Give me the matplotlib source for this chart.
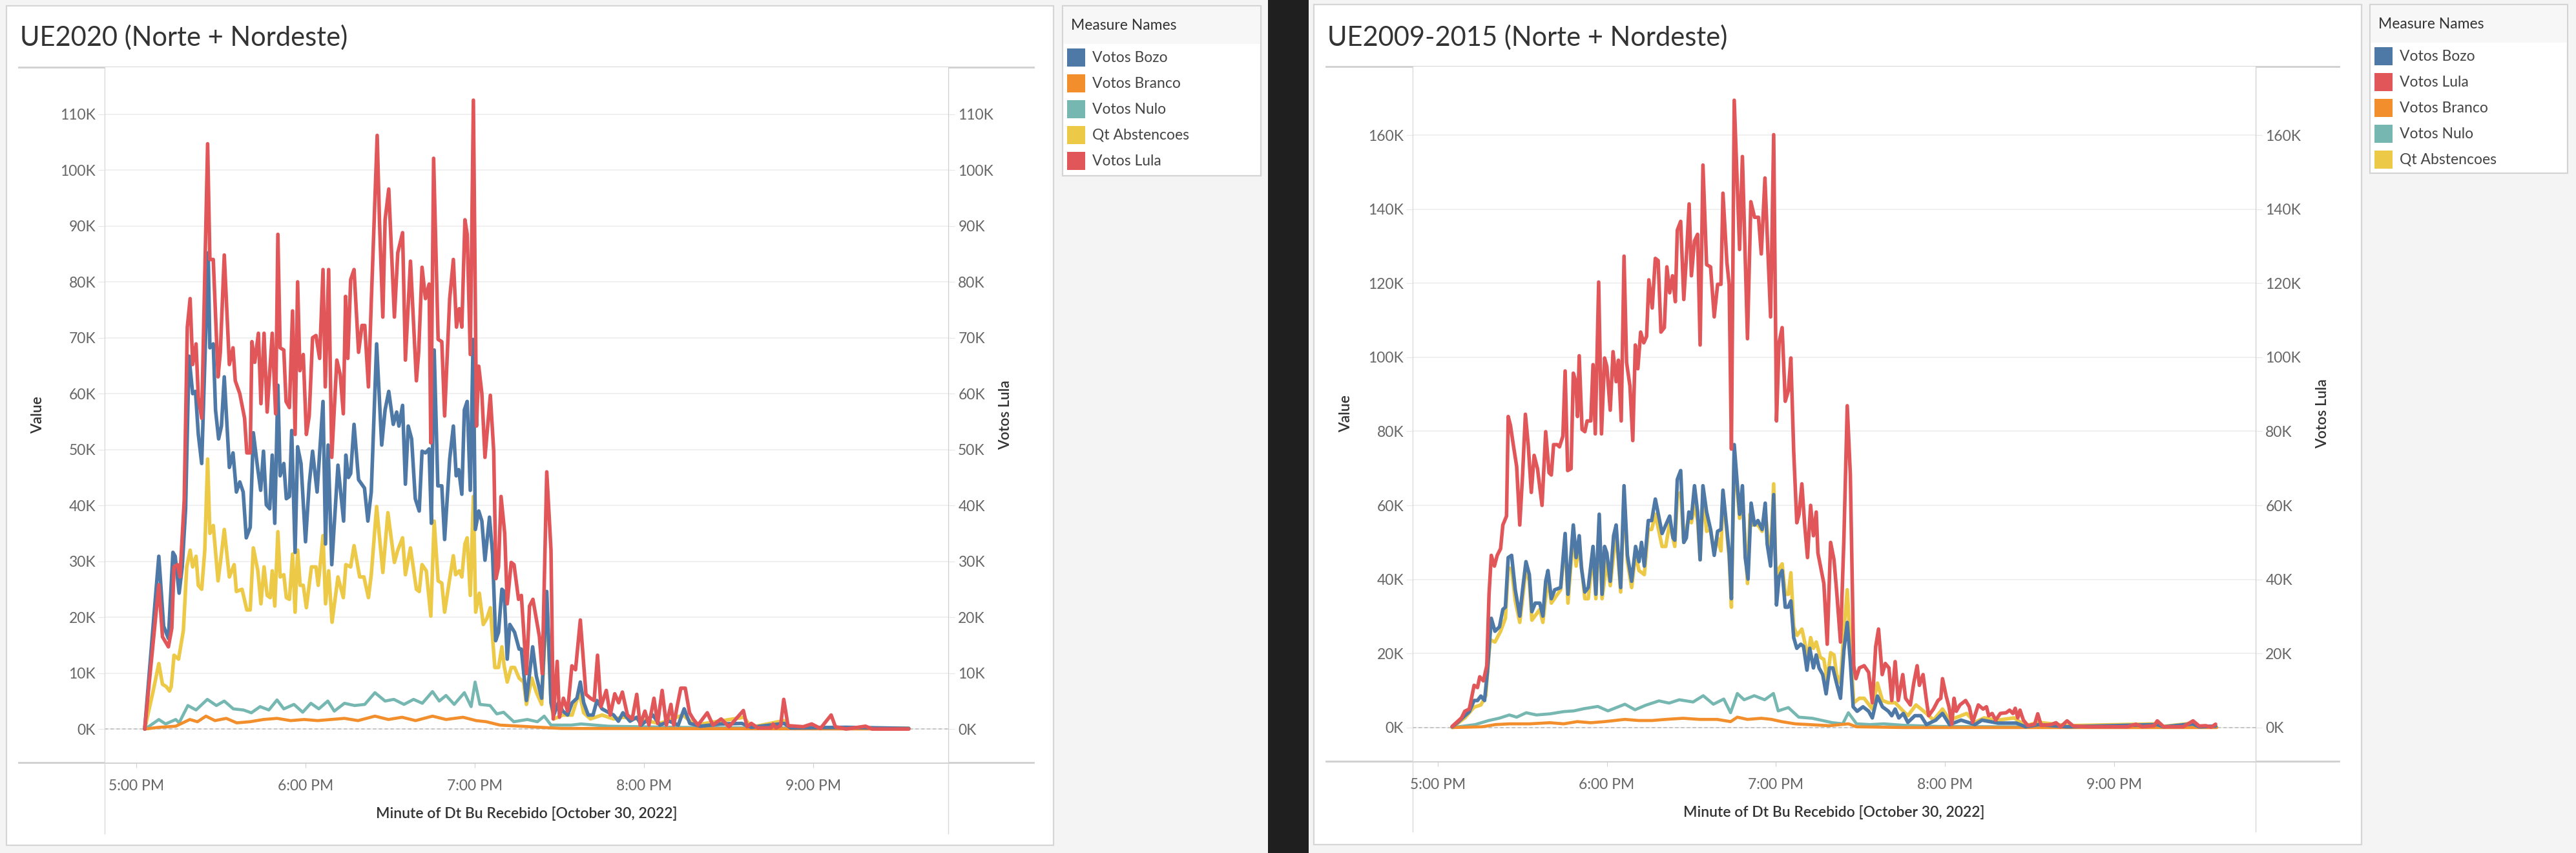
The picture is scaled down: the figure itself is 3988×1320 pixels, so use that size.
import matplotlib
matplotlib.use("Agg")
import matplotlib.pyplot as plt
from matplotlib.patches import Rectangle
from matplotlib.ticker import FuncFormatter

plt.rcParams['font.family'] = ['Lato', 'DejaVu Sans']

W, H = 3988, 1320

colors = {"Votos Bozo": "#4e79a7", "Votos Branco": "#f28e2b", "Votos Nulo": "#76b7b2",
          "Qt Abstencoes": "#edc948", "Votos Lula": "#e15759"}

# x = minutos depois das 5:00 PM, y = milhares de votos
hour_ticks = [0, 60, 120, 180, 240]
hour_labels = ["5:00 PM", "6:00 PM", "7:00 PM", "8:00 PM", "9:00 PM"]

# ---------------- UE2020 ----------------
ue2020_lula = [(3, 0), (8, 25.8), (9.3, 16.5), (11.4, 14.7), (12.6, 18), (13.4, 29), (14.6, 29.4), (15.5, 27.2),
    (17, 40.9), (18.1, 71.9), (19.1, 77), (20, 65.2), (21.2, 68.9), (22, 59.3), (23.2, 55.6), (25.3, 104.7),
    (26.1, 84), (27.3, 84), (29, 63), (29.8, 67.4), (31.2, 84.8), (33, 65.2), (34.3, 68.2), (35.1, 62.3),
    (36.7, 60), (38.4, 55.6), (39.2, 49.4), (40.4, 49.4), (41, 69.3), (42, 65.6), (43.3, 70.8), (44.2, 58.2),
    (45.3, 70.8), (46.4, 56.7), (48.2, 70.8), (49.4, 56.4), (50.2, 88.5), (51, 68.2), (52.3, 67.8), (53.1, 58.6),
    (54.3, 57.5), (55.4, 74.8), (56.3, 52.7), (57.2, 80), (58, 64.1), (59.2, 67), (60.3, 52.7), (61.3, 56),
    (62.5, 70), (63.7, 70.4), (65, 66.3), (66.2, 82.2), (67, 61.2), (68.2, 82.2), (69.3, 48.6), (71.1, 66),
    (72.3, 63.4), (73.4, 56.4), (74.2, 77.4), (75, 66.3), (76, 80.4), (77.2, 82.2), (78.8, 67.4), (80, 72.2),
    (81, 72.2), (82.3, 61.2), (83.3, 76.3), (85.4, 106.2), (86.2, 91.1), (87.4, 73.7), (88.2, 91.1), (89.5, 96.6),
    (91.5, 73.7), (92.7, 85.2), (94.4, 88.8), (95.4, 66), (97.2, 83.7), (99.3, 62.3), (100.1, 67.4), (101.3, 82.6),
    (102.5, 77), (103.8, 79.6), (104.4, 51.2), (105.4, 102.1), (107, 69.7), (108.3, 69.3), (109.3, 56), (111.1, 77),
    (112.4, 84), (113.5, 71.9), (114.5, 75.2), (115.4, 71.9), (116.5, 91.1), (117.3, 88.5), (118.4, 67), (119.5, 112.5),
    (120.6, 54.2), (121.4, 64.9), (122.5, 60), (123.6, 48.6), (125.5, 59.7), (126.7, 49.7), (127.5, 26.9), (128.4, 29),
    (129.3, 41.6), (130.6, 35), (131.5, 22.4), (132.9, 29.8), (133.9, 29.4), (135.5, 23.2), (136.5, 23.9), (138.3, 9.9),
    (139.4, 22), (140.6, 23.2), (142.9, 16.5), (143.9, 9.9), (145.5, 46), (147, 32), (147.8, 1.8), (149.2, 12.1),
    (150, 2.1), (151.4, 5.5), (152.9, 3.2), (154.4, 11.3), (155.7, 10.6), (157.4, 19.5), (159.4, 6.2), (161, 5.5),
    (162.3, 5.1), (163.5, 13.2), (164.7, 4), (166.6, 6.9), (168, 2.5), (169.6, 6.3), (171, 4.7), (172.3, 6.6),
    (174.1, 2.5), (175.8, 1.8), (177.4, 6.2), (178.6, 0.7), (180.3, 3.2), (181.7, 0.7), (183.5, 5.5), (184.8, 1),
    (186.4, 6.9), (187.9, 0.7), (189.5, 4.4), (190.5, 0.7), (191.7, 4), (193, 7.3), (194.6, 7.3), (196.1, 2.9),
    (197.4, 1.8), (199.1, 0.7), (202.4, 2.9), (204.4, 0.7), (207.3, 1.8), (210.1, 0.4), (215.2, 3.3), (216.5, 0.4),
    (218, 1), (220.3, 0.2), (225, 0.2), (225.7, 0.9), (226.8, 0.2), (228.4, 0.6), (229.5, 5.3), (231, 0.6),
    (236.4, 0.4), (239.4, 0.9), (242.5, 0.1), (246.3, 2.5), (247.8, 0.4), (251.6, 0), (258.5, 0.5), (260.8, 0),
    (273.8, 0)]

ue2020_bozo = [(3, 0), (8, 30.9), (9.7, 18.4), (11.4, 16.2), (13, 31.6), (13.8, 30.9), (15.2, 24.3), (16.3, 29),
    (17.5, 39.4), (18.7, 66.7), (20, 60), (21, 60.4), (22, 52.7), (23.2, 47.5), (25.5, 85.2), (26.1, 68.2),
    (27.3, 68.9), (28.1, 57.1), (29.2, 51.9), (30.2, 54.2), (31.2, 63), (33, 46.8), (34.3, 49.4), (35.5, 42.4),
    (36.7, 44.2), (37.9, 42.4), (39, 34.2), (40.4, 36.1), (41.5, 53), (42.9, 47.2), (44.1, 42.7), (45.1, 49.7),
    (46.1, 40.1), (47.3, 39.4), (48.2, 49), (49.1, 36.8), (50.2, 61.5), (51, 45.3), (52.3, 47.5), (53.2, 41.2),
    (54.3, 41.6), (55.1, 53.4), (56.3, 31.6), (57.2, 50.5), (58.4, 47.5), (60, 33.5), (61.3, 43.8), (62.5, 49.7),
    (64.1, 42.4), (66.2, 58.6), (67.1, 33.1), (68, 50.8), (69.3, 29.4), (71.5, 47.2), (73.5, 37.2), (74.3, 49),
    (75.2, 45), (76, 45.7), (77.2, 54.5), (78.8, 44.6), (80.9, 43.1), (82.1, 37.2), (83.3, 42.4), (85.2, 68.9),
    (87, 50.8), (88.2, 57.1), (89.5, 60.4), (91.1, 54.5), (92.3, 56.7), (93.1, 54.2), (94.4, 57.9), (95.4, 43.8),
    (96.4, 54.2), (97.6, 51.9), (98.9, 41.2), (100.3, 39), (101.3, 49.7), (102.5, 49.4), (103.8, 50.1), (104.6, 36.8),
    (105.6, 67.8), (106.9, 43.5), (108.3, 43.5), (109.3, 33.9), (111.1, 48.3), (112.4, 54.2), (113.4, 45.3),
    (114.3, 46.4), (115.4, 42), (116.3, 57.1), (117.3, 58.6), (118.4, 42.7), (119.4, 69.7), (120.2, 35.7), (121.4, 39),
    (122.5, 37.2), (123.6, 30.2), (125.2, 37.9), (126.3, 31.3), (127.4, 15.8), (128.4, 17.3), (129.6, 25),
    (130.4, 24.6), (131.5, 12.5), (132.4, 18.7), (134.1, 17.3), (135.7, 14.3), (136.5, 14.3), (138.3, 5.1),
    (140.5, 14.7), (141.8, 9.5), (143.7, 5.5), (145.5, 24.6), (147, 4.7), (148, 2.5), (149.6, 4.7), (151.2, 3.2),
    (152.9, 2.5), (154.5, 4.7), (156.2, 5.5), (157.4, 8.4), (158.6, 4.7), (160.2, 2.5), (161.9, 2.5), (163.3, 5.1),
    (165.1, 3.6), (167.6, 2.9), (169.2, 2.5), (170.9, 1.4), (172.5, 2.9), (175, 1.4), (177.4, 2.1), (179, 0.7),
    (183.1, 2.5), (185.6, 0.7), (188.9, 1.4), (192.1, 0.7), (194.2, 3.6), (196.2, 1), (200, 0.5), (207, 0.9),
    (214.6, 1), (218, 0.3), (229.6, 1), (232, 0.2), (251.6, 0.3), (273.8, 0.1)]

ue2020_abst = [(3, 0), (6, 6.8), (8, 11.7), (9.3, 8), (10.6, 7.6), (11.8, 6.8), (12.4, 7.6), (13.4, 13.2),
    (15, 12.5), (16.7, 17.6), (17.9, 29), (19.1, 32), (20, 29), (21.2, 30.9), (22, 25.7), (23.2, 25), (24.3, 32),
    (25.3, 48.3), (26.1, 35), (27.3, 36.4), (29, 26.5), (30, 30.5), (31.2, 35.7), (33, 27.2), (34.7, 29.4),
    (35.5, 24.6), (37.5, 25), (39.2, 21.3), (40.4, 21.3), (41.5, 32.4), (43.1, 28.3), (44.2, 22.4), (45.3, 29),
    (46.4, 23.9), (47.5, 23.5), (48.2, 28.3), (49.1, 22), (50.2, 35.3), (51, 27.2), (52.3, 27.6), (53.2, 23.5),
    (54.3, 23.2), (55.4, 31.3), (56.3, 20.9), (57.2, 32), (58.1, 25.7), (59.2, 25.7), (60.3, 21.7), (62.1, 29),
    (63.7, 29), (64.5, 25.7), (66.2, 34.6), (67.1, 22.4), (68.2, 28.3), (69.4, 19.1), (71.5, 27.2), (73.4, 23.5),
    (74.3, 29.4), (76, 29), (77.2, 32.8), (79.2, 27.2), (80.7, 27.2), (82.3, 23.5), (83.3, 27.6), (85.2, 39.8),
    (87.4, 28), (89.2, 38.7), (91.5, 29.8), (92.7, 32), (94.4, 34.2), (95.4, 27.6), (97.2, 32.4), (99.3, 25),
    (100.3, 24.6), (101.3, 29.4), (102.8, 28.3), (104.4, 20.2), (105.6, 37.2), (107, 26.5), (108.3, 26.1),
    (109.3, 20.9), (111.1, 26.9), (112.4, 31), (113.2, 27.6), (114.5, 28.3), (115.4, 27.2), (116.5, 33.1),
    (117.3, 34.2), (118.4, 23.9), (119.5, 41.6), (120.3, 20.9), (121.6, 24.3), (123, 18.7), (124.3, 19.8),
    (125.5, 21.7), (127.1, 11), (128.4, 11), (129.6, 14.7), (130.4, 11.3), (131.5, 8.4), (132.9, 11), (134.1, 11),
    (135.7, 9.1), (137.3, 8.4), (138.3, 4.4), (140.2, 9.1), (141.8, 6.6), (143.7, 4.4), (145.5, 23.2), (147, 4.7),
    (148, 1.8), (151.2, 2.5), (154.5, 2.5), (157, 6.6), (158.6, 2.9), (161, 1.8), (165.1, 2.5), (169.2, 1.8),
    (172.5, 2.1), (177.4, 1.8), (185.6, 1), (193.8, 2.5), (197.9, 0.7), (215.4, 2.1), (218, 0.3), (229.5, 1.5),
    (232, 0.2), (273.8, 0.1)]

ue2020_nulo = [(3.2, 0), (8, 1.7), (10.4, 0.9), (14, 1.7), (15.2, 1.1), (18.3, 4.2), (21.2, 3.4), (25.2, 5.3),
    (28.4, 4.2), (31.2, 5), (34.4, 3.6), (38, 3.4), (40.8, 2.9), (43.9, 4), (47, 3.4), (49.9, 5.2), (52.3, 3.6),
    (55.9, 4.4), (59, 3), (61.9, 4.6), (64.7, 3.6), (67.9, 5), (70.2, 3.2), (73.8, 4.6), (77.4, 4.2), (81, 4.4),
    (84.6, 6.5), (88.2, 5), (91.3, 5.3), (94.9, 4.4), (98.3, 5.3), (101.4, 4.6), (105, 6.7), (107.4, 5), (109.8, 6),
    (112.7, 4.4), (116.3, 6.5), (118.7, 4), (120.1, 8.4), (121.8, 4.4), (125.4, 4.2), (127.8, 2.7), (130.2, 3),
    (133.8, 1.3), (138.6, 1.7), (142.2, 1.3), (144.6, 2.3), (147, 0.7), (150.6, 0.7), (154.2, 0.7), (157.7, 0.9),
    (167.3, 0.5), (191.2, 0.3), (215.2, 0.2), (273.9, 0.1)]

ue2020_branco = [(3.2, 0), (8, 0.3), (14, 0.5), (19, 1.7), (21.7, 1.3), (24.7, 2.3), (27.9, 1.5), (31.9, 1.9),
    (35.6, 1.1), (40.3, 1.3), (45.1, 1.7), (49.9, 1.9), (54.7, 1.5), (59.5, 1.7), (64.3, 1.5), (69, 1.7),
    (73.8, 1.9), (78.6, 1.5), (84.6, 2.3), (89.4, 1.7), (94.2, 2.1), (99, 1.5), (105, 2.3), (109.8, 1.7),
    (115.8, 2.1), (120.5, 1.5), (124.1, 1.3), (128.9, 0.7), (136.1, 0.5), (143.4, 0.3), (150.6, 0.1), (273.9, 0)]

# ---------------- UE2009-2015 ----------------
ue0915_lula = [(5.1, 0.3), (6.7, 1.4), (8.4, 2.6), (9.6, 4.4), (11.2, 5), (12.9, 11.4), (14.1, 10.8), (14.9, 13.7),
    (16.2, 12.6), (17.4, 16.7), (18.2, 36), (19, 46.5), (20.1, 43.6), (21.1, 46.5), (22.3, 48.3), (23.1, 54.7),
    (24.4, 57.1), (25, 84), (25.8, 81.6), (26.8, 76.4), (28, 70.5), (29.1, 54.7), (30.1, 68.2), (31.1, 84.6),
    (32.1, 76.4), (33.2, 63.5), (34.2, 73.5), (35.4, 69.9), (37, 60), (38.3, 79.9), (39.5, 68.8), (40.3, 68.2),
    (41.1, 76.4), (42.4, 76.4), (43.2, 75.8), (44.4, 78.7), (45.2, 96.3), (46.1, 69.4), (47.3, 69.9), (48.1, 95.7),
    (49, 93.4), (49.6, 84), (50.2, 100.4), (51.2, 80.5), (52.2, 79.9), (53, 82.8), (54.3, 82.8), (55.1, 98),
    (55.9, 79.3), (57.1, 120.3), (58.1, 79.3), (59.2, 99.8), (60, 97.5), (61.2, 85.7), (62.2, 101.5), (63.3, 93.4),
    (64.1, 99.2), (65.1, 82.8), (66.1, 127.3), (67, 98.6), (68.2, 92.2), (69.2, 77.5), (70.1, 103.3), (71, 96.9),
    (72, 106.8), (73.1, 103.9), (74.1, 105.6), (74.9, 120.9), (76.1, 113.3), (77.2, 126.7), (78.2, 126.1),
    (79.2, 106.8), (80.4, 108), (81.3, 124.4), (82.3, 117.4), (83.3, 122), (84.3, 115), (85, 134.3), (86.2, 136.7),
    (87.3, 115.6), (88.2, 126.7), (89.2, 141.4), (90, 122), (91.1, 131.4), (92.2, 133.2), (93.1, 103.3),
    (94.1, 151.9), (95.4, 125), (96.8, 124.4), (98.1, 110.9), (99.3, 119.7), (100.5, 119.7), (101.2, 144.3),
    (102.6, 125.6), (103.4, 119.7), (104.2, 75.2), (105.2, 169.4), (107.1, 129.1), (108.1, 154.2), (109.9, 105),
    (111.1, 142), (112.4, 137.8), (113.8, 137.8), (114.8, 127.9), (116.1, 148.4), (116.9, 133.2), (118.1, 110.9),
    (119.2, 160.1), (120.2, 82.8), (121.1, 103.9), (122.2, 108), (123.3, 88.1), (124.4, 91), (125.3, 99.8),
    (126.3, 74.6), (127.4, 55.3), (128.2, 57.6), (129.2, 65.8), (130.2, 54.7), (131.2, 45.9), (132.3, 60),
    (133.3, 51.8), (134.3, 58.2), (134.9, 47.1), (136.1, 42.4), (137, 38.9), (138.2, 22.5), (139.4, 50),
    (140.6, 45.3), (141.5, 37.2), (142.9, 23.1), (144.1, 50.6), (145.3, 86.9), (146.4, 68.2), (147.6, 16.7),
    (148.4, 13.2), (149.6, 16.1), (151.3, 16.7), (152.9, 14.9), (154.2, 6.7), (155.4, 21.9), (156.4, 26.6),
    (157.7, 14.3), (158.8, 17.3), (160.1, 16.1), (161.1, 7.3), (162.3, 17.8), (163.4, 7.3), (165, 14.3), (166, 7.9),
    (167.7, 6.1), (168.9, 12), (170.1, 16.7), (170.9, 11.4), (172.2, 14.3), (173.4, 7.3), (174.2, 3.2), (175.9, 5),
    (177.5, 7.3), (178.5, 7.9), (179.1, 13.2), (180.4, 8.5), (181.4, 5.6), (182.4, 0.9), (183.2, 7.9), (184, 4.4),
    (185.3, 6.1), (187.3, 7.3), (188.6, 5.6), (189.8, 1.4), (191.8, 6.1), (193.5, 5), (194.7, 5.6), (195.5, 3.2),
    (196.7, 3.8), (198, 2), (199.6, 3.8), (201.7, 4), (202.9, 4.7), (204.1, 3.8), (204.9, 5.2), (205.8, 2.6),
    (206.6, 4.7), (207.8, 2), (209.4, 0.5), (211.8, 0.9), (212.9, 3.7), (214.1, 0.6), (217.6, 0.8), (219.4, 1.3),
    (221, 0.2), (223.3, 1.8), (225.5, 0.4), (230.9, 0.2), (238.5, 0.2), (244.7, 0.2), (247.7, 0.9), (250, 0.2),
    (254.2, 0.5), (255.3, 1.8), (257.6, 0.2), (264.5, 0.2), (268, 1.8), (270.2, 0.4), (272.5, 0.5), (274.4, 0.1),
    (276, 0.9)]

ue0915_bozo = [(5.1, 0.2), (7.1, 1.4), (9.6, 3.2), (11.2, 4.3), (12.9, 7.3), (14.1, 7.3), (15.3, 8.5), (16.6, 7.3),
    (17.6, 14.9), (19, 29.5), (20.3, 26), (21.9, 27.2), (23.1, 31.9), (24, 32.5), (25, 45.9), (26.2, 46.5),
    (27.5, 37.2), (29.1, 30.1), (30.1, 37.2), (31.3, 44.8), (32.5, 41.3), (33.4, 31.3), (34.6, 33.6), (36.2, 33.6),
    (37.3, 30.1), (38.3, 39.5), (39.1, 42.4), (40.3, 34.8), (41.5, 37.2), (43.6, 37.8), (45.2, 52.4), (46.2, 36),
    (48.1, 54.7), (49.1, 45.9), (50.2, 51.8), (51, 43), (52.2, 36.6), (53.4, 37.8), (55.1, 48.9), (56.1, 36),
    (57.3, 57.6), (58.3, 36), (59.2, 48.9), (60, 47.1), (61.2, 39.5), (62.4, 51.8), (63.3, 54.7), (64.9, 37.8),
    (66.1, 65.3), (67.3, 46.5), (68.8, 39.5), (70.2, 48.9), (71.4, 44.8), (72.3, 50), (73.3, 43.6), (74.7, 55.9),
    (75.9, 55.9), (77.2, 61.7), (78.4, 57.1), (79.6, 52.4), (80.9, 54.7), (82.3, 57.1), (83.5, 51.2), (84.1, 50.6),
    (85, 67), (86.2, 69.4), (87.3, 50), (88.2, 51.2), (89.1, 58.2), (90, 56.5), (91.1, 65.3), (92.2, 58.2),
    (93.1, 45.3), (94.1, 65.3), (95.4, 58.2), (96.8, 53.5), (98.1, 46.5), (99.3, 53), (100.5, 53.5), (101.2, 64.1),
    (102.6, 53.5), (103.4, 47.1), (104.2, 34.8), (105.2, 76.4), (107.1, 57.6), (108.1, 65.3), (109.1, 45.9),
    (110.1, 40.1), (111.2, 60.6), (112.4, 54.7), (113.6, 55.9), (115.1, 53.5), (116.2, 60.6), (116.9, 49.5),
    (118.1, 43.6), (119.2, 62.9), (120.2, 33.1), (121.1, 40.7), (122.2, 42.4), (123.3, 32.5), (124.3, 32.5),
    (125.3, 34.2), (126.3, 24.3), (127.4, 21.4), (128.8, 22.5), (129.8, 21.9), (131, 15.5), (132, 21.4),
    (133.3, 16.1), (134.3, 19.6), (135.3, 16.1), (136.6, 14.3), (137.8, 9.1), (139, 16.1), (140.2, 16.1),
    (141.5, 12), (142.9, 7.9), (144.1, 20.8), (145.3, 28.4), (146.4, 17.8), (147.4, 5.6), (148.8, 4.4),
    (150.9, 5.6), (152.9, 4.4), (154.2, 2.6), (156, 8.5), (157.8, 5.6), (159.9, 4.4), (161.1, 3.2), (162.3, 5),
    (163.6, 2.6), (165.2, 3.8), (166.8, 1.4), (169.3, 3.2), (171.4, 3.2), (173.4, 0.8), (176.7, 2), (179.1, 3.8),
    (181.6, 0.8), (185.7, 2), (190.6, 0.8), (193.1, 2), (198.8, 1.2), (205.3, 1.2), (208.6, 0.2), (213.1, 0.8),
    (223.4, 0.2), (255.3, 0.8), (257.6, 0.2), (268, 1), (270.2, 0.2), (276, 0.4)]

ue0915_abst = [(5.1, 0), (9.6, 2.6), (12.9, 5.5), (15.3, 6.1), (17, 8.5), (18.6, 23.7), (20.3, 23.1), (22.3, 26),
    (24, 29.5), (25, 43), (26.2, 43), (27.5, 34.2), (29.1, 28.4), (30.1, 34.8), (31.3, 43), (32.5, 39.5),
    (33.4, 29), (36.2, 31.9), (37.3, 28.4), (39.1, 40.7), (40.3, 33.6), (43.6, 37.2), (45.2, 50.6), (46.2, 33.6),
    (48.1, 52.4), (49.1, 43.6), (50.2, 49.5), (52.2, 34.8), (53.4, 34.8), (55.1, 47.1), (56.1, 34.8), (57.3, 55.3),
    (58.3, 34.8), (60, 44.8), (61.2, 38.3), (63.3, 53), (64.9, 36.6), (66.1, 62.9), (67.3, 44.8), (68.8, 37.8),
    (70.2, 47.1), (71.4, 42.4), (73.3, 41.3), (74.7, 53.5), (75.9, 53.5), (77.2, 57.6), (79.6, 48.9), (80.9, 48.9),
    (82.3, 55.3), (84.1, 48.9), (85, 62.3), (86.2, 63.5), (87.3, 50), (89.1, 57.1), (90, 55.3), (91.1, 60),
    (92.2, 55.9), (93.1, 45.3), (94.1, 62.3), (95.4, 53), (96.8, 53.5), (98.1, 47.1), (99.3, 51.2), (100.5, 47.7),
    (101.2, 63.5), (103.4, 45.9), (104.2, 32.5), (105.2, 73.5), (107.1, 56.5), (108.1, 62.9), (109.9, 38.9),
    (110.8, 57.6), (111.6, 54.7), (113.6, 54.7), (115.1, 53), (116.2, 58.2), (118.1, 45.3), (119.2, 65.8),
    (120.2, 34.2), (121.1, 43), (122.2, 44.2), (123.3, 36), (124.4, 36), (125.3, 41.8), (126.3, 27.2),
    (127.5, 24.9), (129.2, 26.6), (130.2, 23.1), (131.2, 18.4), (132.3, 24.3), (133.3, 21.4), (134.3, 23.1),
    (135.7, 19), (137, 18.4), (138.2, 12.6), (139.4, 20.2), (140.6, 19.6), (141.5, 14.3), (142.9, 12), (144.1, 26),
    (145.3, 37.2), (146.4, 22.5), (147.6, 6.7), (149.6, 7.9), (151.3, 7.9), (154.2, 5), (156, 12), (157.8, 7.3),
    (159.9, 6.7), (162.3, 6.7), (165.2, 4.4), (166.8, 3.2), (169.7, 6.1), (173.4, 3.8), (175.9, 2), (179.1, 5),
    (181.6, 2), (185.7, 3.2), (187.7, 3.8), (190.6, 1.4), (193.9, 2.6), (198.8, 2), (204.5, 2.6), (208.6, 0.5),
    (213.1, 1.4), (223.4, 0.5), (255.3, 1), (257.6, 0.3), (268, 1.2), (270.2, 0.3), (276, 0.3)]

ue0915_nulo = [(5.3, 0), (13.3, 0.8), (18.1, 1.9), (21.7, 2.5), (25.4, 3.4), (28, 2.8), (31.4, 4), (35, 3.4),
    (39.8, 3.7), (44.7, 4.3), (48.3, 4.5), (51.9, 5.1), (56.8, 5.7), (60.4, 4.5), (66.4, 6.3), (70, 4.8),
    (73.7, 6), (78.5, 7.2), (82.1, 6.6), (85.7, 7.5), (90.6, 6.9), (94.2, 8.6), (97.8, 6.3), (101.5, 7.7),
    (103.9, 4), (106.3, 9.2), (108.7, 7.5), (112.3, 8.6), (116, 7.5), (119.1, 9.2), (120.8, 4.5), (124.4, 5.4),
    (128.1, 2.8), (132.9, 2.5), (136.5, 1.9), (140.1, 1.3), (143.7, 1), (145.7, 4), (148.6, 1), (153.4, 0.8),
    (158.2, 1), (165.5, 0.6), (177.5, 0.3), (201.6, 0.2), (276.4, 0.1)]

ue0915_branco = [(5.3, 0), (15.7, 0.2), (20.5, 0.8), (25.4, 1), (32.6, 1), (39.8, 1.3), (44.7, 1), (49.5, 1.6),
    (54.3, 1.3), (59.2, 1.6), (66.4, 2.2), (71.3, 1.9), (76.1, 1.9), (80.9, 2.2), (87, 2.5), (93, 2.2), (99.1, 2.2),
    (103.9, 1.6), (106.3, 2.8), (109.9, 2.2), (114.8, 2.5), (118.4, 2.2), (122, 1.6), (126.8, 1), (131.7, 0.8),
    (138.9, 0.5), (145.7, 1), (148.6, 0.2), (165.5, 0), (276.4, 0)]


def px_rect(x0, y0, x1, y1):
    return [x0 / W, 1 - y1 / H, (x1 - x0) / W, (y1 - y0) / H]


fig = plt.figure(figsize=(W / 100, H / 100), dpi=100, facecolor="#f4f4f4")
bg = fig.add_axes([0, 0, 1, 1])
bg.set_xlim(0, W)
bg.set_ylim(H, 0)
bg.axis("off")

# faixa escura entre os dois painéis
bg.add_patch(Rectangle((1963, 0), 63, H, color="#1f1f1f", lw=0))

kfmt = FuncFormatter(lambda v, p: f"{v:.0f}K")


def panel(card, plot, lines_x, bottom_y, title, xlim, ylim, yticks, series, lula, legend_box, legend_order, ycoords):
    cx0, cy0, cx1, cy1 = card
    bg.add_patch(Rectangle((cx0, cy0), cx1 - cx0, cy1 - cy0, facecolor="white", edgecolor="#d6d6d6", lw=1.6))
    px0, py0, px1, py1 = plot
    # linhas da grade do layout
    bg.plot(lines_x, [py0, py0], color="#cfcfcf", lw=2)
    bg.plot(lines_x, [py1, py1], color="#cfcfcf", lw=2)
    bg.plot([px0, px0], [py0, bottom_y], color="#dadada", lw=1)
    bg.plot([px1, px1], [py0, bottom_y], color="#dadada", lw=1)
    bg.text(cx0 + 21, 58, title, fontsize=30, color="#333333", va="center", ha="left")

    ax = fig.add_axes(px_rect(px0, py0, px1, py1))
    ax.set_xlim(*xlim)
    ax.set_ylim(*ylim)
    ax.set_yticks(yticks)
    ax.yaxis.set_major_formatter(kfmt)
    ax.set_xticks(hour_ticks, hour_labels)
    ax.grid(axis="y", color="#ededed", lw=1.2)
    ax.set_axisbelow(True)
    ax.axhline(0, color="#c2c2c2", lw=1.3, ls=(0, (3, 2)), zorder=1.5)
    for s in ["top", "bottom", "right"]:
        ax.spines[s].set_visible(False)
    ax.spines["left"].set_color("#d8d8d8")
    ax.tick_params(axis="x", length=6, color="#d0d0d0", pad=13, labelsize=16.5, labelcolor="#666666")
    ax.tick_params(axis="y", length=7, color="#e6e6e6", pad=3, labelsize=16.5, labelcolor="#666666")

    for name, pts, lw in series:
        ax.plot([p[0] for p in pts], [p[1] for p in pts], color=colors[name], lw=lw,
                solid_joinstyle="round", solid_capstyle="round")

    ax.set_ylabel("Value", fontsize=16.5, color="#333333", fontweight="semibold")
    ax.yaxis.set_label_coords(ycoords[0], 0.5)
    ax.set_xlabel("Minute of Dt Bu Recebido [October 30, 2022]", fontsize=16.5, color="#333333",
                  fontweight="semibold")
    ax.xaxis.set_label_coords(0.5, -0.063)

    ax2 = ax.twinx()
    ax2.set_ylim(*ylim)
    ax2.set_yticks(yticks)
    ax2.yaxis.set_major_formatter(kfmt)
    for s in ["top", "bottom", "left"]:
        ax2.spines[s].set_visible(False)
    ax2.spines["right"].set_color("#d0d0d0")
    ax2.tick_params(axis="y", length=7, color="#e6e6e6", pad=4, labelsize=16.5, labelcolor="#666666")
    ax2.plot([p[0] for p in lula], [p[1] for p in lula], color=colors["Votos Lula"], lw=4.0,
             solid_joinstyle="round", solid_capstyle="round")
    ax2.set_ylabel("Votos Lula", fontsize=16.5, color="#333333", fontweight="semibold", rotation=90)
    ax2.yaxis.set_label_coords(ycoords[1], 0.5)

    # legenda no estilo Tableau
    lx0, ly0, lx1, ly1 = legend_box
    bg.add_patch(Rectangle((lx0, ly0), lx1 - lx0, ly1 - ly0, facecolor="white", edgecolor="#d4d4d4", lw=1.6))
    bg.add_patch(Rectangle((lx0 + 1, ly0 + 1), lx1 - lx0 - 2, 58, facecolor="#f7f7f7", lw=0))
    bg.text(lx0 + 13, ly0 + 31, "Measure Names", fontsize=16.5, color="#333333", va="center")
    for i, name in enumerate(legend_order):
        yc = ly0 + 80 + 40 * i
        bg.add_patch(Rectangle((lx0 + 7, yc - 14), 28, 28, color=colors[name], lw=0))
        bg.text(lx0 + 46, yc, name, fontsize=16.5, color="#444444", va="center")


panel(card=(10, 9, 1631, 1308), plot=(162, 104, 1468, 1180), lines_x=[29, 1600], bottom_y=1290,
      title="UE2020 (Norte + Nordeste)", xlim=(-11.2, 287.8), ylim=(-6.0, 118.4),
      yticks=list(range(0, 111, 10)),
      series=[("Qt Abstencoes", ue2020_abst, 4.0), ("Votos Nulo", ue2020_nulo, 3.4),
              ("Votos Branco", ue2020_branco, 3.4), ("Votos Bozo", ue2020_bozo, 4.0)],
      lula=ue2020_lula, legend_box=(1645, 9, 1952, 272),
      legend_order=["Votos Bozo", "Votos Branco", "Votos Nulo", "Qt Abstencoes", "Votos Lula"],
      ycoords=(-0.071, 1.06))

panel(card=(2034, 7, 3656, 1307), plot=(2187, 103, 3492, 1178), lines_x=[2053, 3621], bottom_y=1287,
      title="UE2009-2015 (Norte + Nordeste)", xlim=(-8.9, 290.2), ylim=(-9.1, 178.5),
      yticks=list(range(0, 161, 20)),
      series=[("Qt Abstencoes", ue0915_abst, 4.0), ("Votos Nulo", ue0915_nulo, 3.4),
              ("Votos Branco", ue0915_branco, 3.4), ("Votos Bozo", ue0915_bozo, 4.0)],
      lula=ue0915_lula, legend_box=(3669, 7, 3975, 268),
      legend_order=["Votos Bozo", "Votos Lula", "Votos Branco", "Votos Nulo", "Qt Abstencoes"],
      ycoords=(-0.071, 1.071))

fig.savefig("out.png", dpi=100, facecolor=fig.get_facecolor())
